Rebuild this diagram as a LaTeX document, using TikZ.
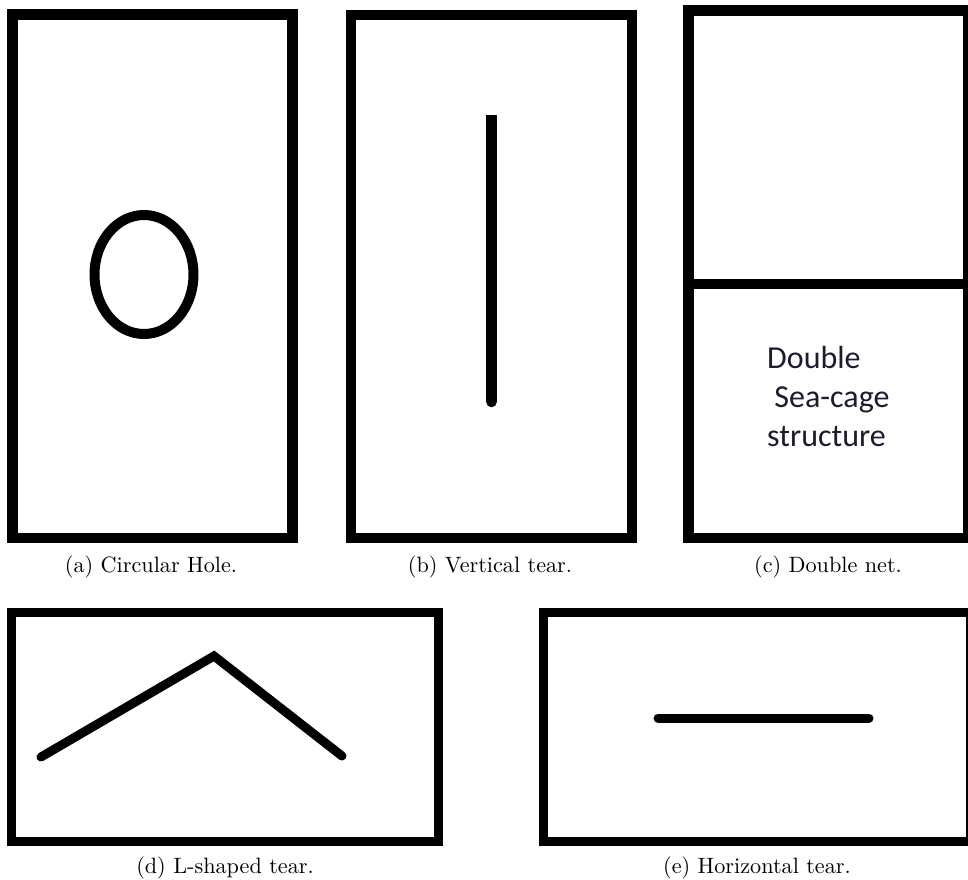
\documentclass[tikz,border=0pt]{standalone}
\usepackage{fontspec}
\newfontfamily\calib{Carlito}
\definecolor{txt}{RGB}{28,28,48}
\begin{document}
\begin{tikzpicture}[x=1pt,y=-1pt,
  frame/.style={draw=black,line width=10.5pt,line join=miter},
  frameb/.style={draw=black,line width=9pt,line join=miter},
  tear/.style={draw=black,line width=9pt,line cap=round,line join=miter},
  captext/.style={font=\fontsize{10}{12}\selectfont,scale=2.22,inner sep=0pt,anchor=base},
  cagetext/.style={font=\calib\fontsize{32}{39}\selectfont,text=txt,inner sep=0pt,anchor=base west}]
\useasboundingbox (0,0) rectangle (968,879);
\clip (0,0) rectangle (968,879);
\fill[white] (0,0) rectangle (968,879);
% (a)
\draw[frame] (12.3,14.5) rectangle (292.7,538);
\draw[black,line width=10pt] (144,274.5) ellipse [x radius=49.5,y radius=59.5];
\node[captext] (capa) at (151,572.5) {(a) Circular Hole.};
% (b)
\draw[frame] (351.2,15) rectangle (632,538);
\draw[black,line width=10.6pt,line cap=butt] (491.5,115) -- (491.5,402);
\fill[black] (491.5,402) circle (5.3);
\node[captext] (capb) at (490,572.5) {(b) Vertical tear.};
% (c)
\draw[frame] (688.5,10.5) rectangle (968,538);
\draw[black,line width=10pt] (688,284) -- (968,284);
\node[cagetext] (t1) at (767,368) {Double};
\node[cagetext] (t2) at (767,407) {\hspace*{7.2pt}Sea-cage};
\node[cagetext] (t3) at (767,446) {structure};
\node[captext] (capc) at (828,572.5) {(c) Double net.};
% (d)
\draw[frameb] (11.5,612.5) rectangle (438.5,841.5);
\draw[tear] (41,757) -- (214,656) -- (342,756);
\node[captext] (capd) at (225,873) {(d) L-shaped tear.};
% (e)
\draw[frameb] (543.5,612.5) rectangle (970.5,841.5);
\draw[tear] (658,718) -- (869,718);
\node[captext] (cape) at (757,873) {(e) Horizontal tear.};
\end{tikzpicture}
\end{document}
